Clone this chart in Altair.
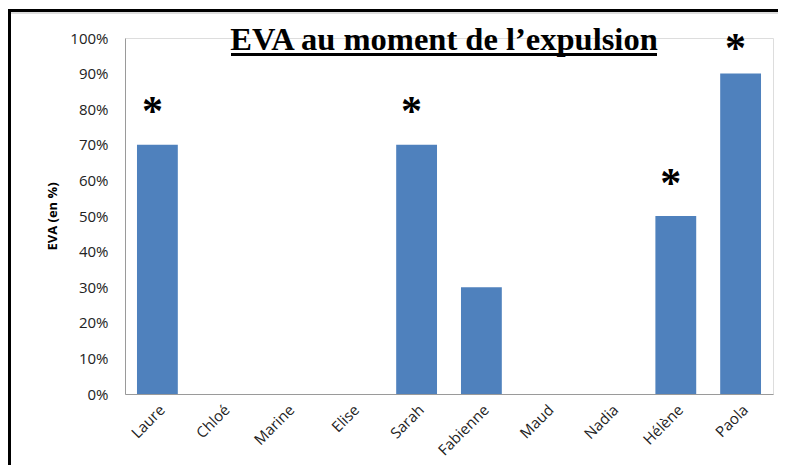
import altair as alt
import pandas as pd

names = ["Laure", "Chloé", "Marine", "Elise", "Sarah", "Fabienne", "Maud", "Nadia", "Hélène", "Paola"]
eva = [0.70, 0.0, 0.0, 0.0, 0.70, 0.30, 0.0, 0.0, 0.50, 0.90]
star_names = ["Laure", "Sarah", "Hélène", "Paola"]
star_pos = [0.81, 0.81, 0.607, 0.986]
title_text = "EVA au moment de l\u2019expulsion"
y_ticks = [0, 0.1, 0.2, 0.3, 0.4, 0.5, 0.6, 0.7, 0.8, 0.9, 1.0]

df = pd.DataFrame({"name": names, "eva": eva})
stars = pd.DataFrame({"name": star_names, "pos": star_pos})
one = pd.DataFrame({"a": [0]})

xscale = alt.Scale(domain=names, paddingInner=0.37, paddingOuter=0.185)
xaxis = alt.Axis(labelAngle=-45, labelAlign="right", labelBaseline="top",
                 labelPadding=8, ticks=False, domainColor="#9a9a9a",
                 labelFont="Open Sans", labelFontSize=15, labelColor="#222",
                 labelOverlap=False)
yscale = alt.Scale(domain=[0, 1])
yaxis = alt.Axis(values=y_ticks, format=".0%", ticks=False, grid=False,
                 domainColor="#9a9a9a", labelPadding=17, labelOverlap=False,
                 labelFont="Open Sans", labelFontSize=15, labelColor="#222",
                 titleFont="Open Sans", titleFontSize=13,
                 titleFontWeight="bold", titleColor="#000",
                 titleX=-73, titleY=178, titleAngle=-90,
                 titleAlign="center", titleBaseline="middle")

bars = alt.Chart(df).mark_bar(color="#4F81BD").encode(
    x=alt.X("name:N", scale=xscale, axis=xaxis, title=None),
    y=alt.Y("eva:Q", scale=yscale, axis=yaxis, title="EVA (en %)"),
)

star_marks = alt.Chart(stars).mark_text(text="*", font="Liberation Serif", fontWeight="bold",
                                        fontSize=42, baseline="middle", dx=-5, dy=6,
                                        color="#000").encode(
    x=alt.X("name:N", scale=xscale, axis=xaxis, title=None),
    y=alt.Y("pos:Q", scale=yscale, axis=yaxis, title="EVA (en %)"),
)

title = alt.Chart(one).mark_text(text=title_text, font="Liberation Serif", fontWeight="bold",
                                 fontSize=32.5, baseline="alphabetic", align="center",
                                 color="#000").encode(
    x=alt.value(319), y=alt.value(12))
underline = alt.Chart(one).mark_rule(color="#000", strokeWidth=3).encode(
    x=alt.value(106), x2=alt.value(532), y=alt.value(16.5))

frame_left = alt.Chart(one).mark_rule(color="#000", strokeWidth=3).encode(
    x=alt.value(-115.5), y=alt.value(-27.5), y2=alt.value(460))
frame_top = alt.Chart(one).mark_rule(color="#000", strokeWidth=3).encode(
    x=alt.value(-117), x2=alt.value(700), y=alt.value(-27.5))
frame_top2 = alt.Chart(one).mark_rule(color="#bbbbbb", strokeWidth=1).encode(
    x=alt.value(-114), x2=alt.value(700), y=alt.value(-25))

chart = alt.layer(bars, star_marks, frame_left, frame_top, frame_top2, title, underline).properties(
    width=648, height=356,
    autosize=alt.AutoSizeParams(type="none"),
    padding={"left": 117, "top": 30, "right": 5, "bottom": 71},
).configure_view(strokeWidth=0, stroke="transparent").configure(background="white")

chart.save("out.html", embed_options={"renderer": "svg", "actions": False})
